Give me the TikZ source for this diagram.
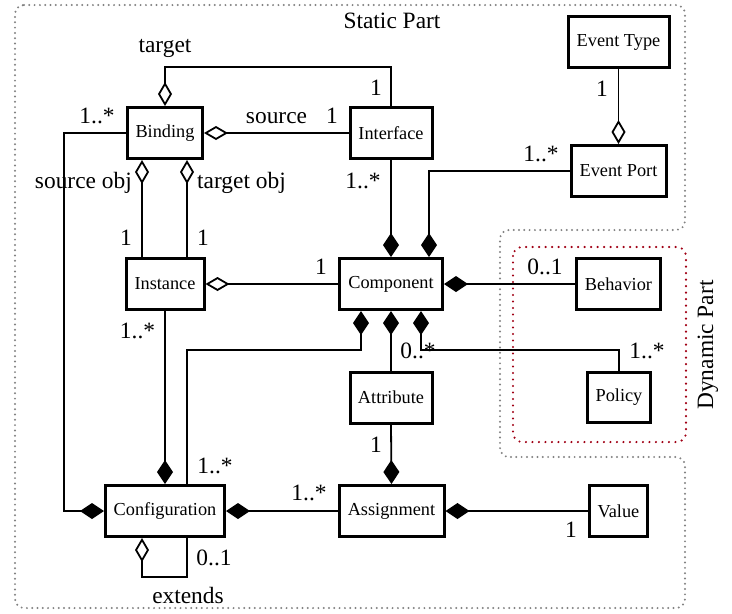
\documentclass[tikz,border=0pt]{standalone}
\usepackage{fontspec}
\setmainfont{Liberation Serif}
\usetikzlibrary{arrows.meta,calc}
\definecolor{dotgray}{RGB}{130,130,130}
\definecolor{dotred}{RGB}{160,0,20}
\begin{document}
\begin{tikzpicture}[x=1pt,y=-1pt,
 cls/.style={draw,line width=3pt,minimum height=51pt,inner sep=2pt,font=\fontsize{18.3}{20}\selectfont},
 conn/.style={line width=1.8pt},
 agg/.style={conn,-{Diamond[open,length=24pt,width=14pt]}},
 comp/.style={conn,-{Diamond[length=24pt,width=16pt]}},
 lab/.style={font=\fontsize{23.4}{26}\selectfont,inner sep=0pt,anchor=base},
 staticline/.style={draw=dotgray,line width=2.2pt,line cap=round,dash pattern=on 0pt off 5.3pt,rounded corners=9pt},
 dynline/.style={draw=dotred,line width=2.4pt,line cap=round,dash pattern=on 0pt off 6.5pt,rounded corners=9pt},
]
\useasboundingbox (0,0) rectangle (732,614);

% regions
\draw[staticline] (15,5) -- (685,5) -- (685,230) -- (500,230) -- (500,457) -- (685,457) -- (685,608) -- (15,608) -- cycle;
\draw[dynline] (513,247) rectangle (686,442);
\node[lab] (staticlbl) at (392,28) {Static Part};
\node[lab,rotate=90] (dynlbl) at (713,345) {Dynamic Part};

% classes
\node[cls,minimum width=75] (binding) at (165,133) {Binding};
\node[cls,minimum width=82] (interface) at (391,133) {Interface};
\node[cls,minimum width=101] (eventtype) at (618.5,42) {Event Type};
\node[cls,minimum width=95] (eventport) at (618.5,171) {Event Port};
\node[cls,minimum width=78] (instance) at (165,284) {Instance};
\node[cls,minimum width=103] (component) at (391,284) {Component};
\node[cls,minimum width=84] (behavior) at (618.5,284) {Behavior};
\node[cls,minimum width=63,minimum height=50] (policy) at (619,397.5) {Policy};
\node[cls,minimum width=82] (attribute) at (391,397.5) {Attribute};
\node[cls,minimum width=119] (configuration) at (165,511) {Configuration};
\node[cls,minimum width=105] (assignment) at (391.5,511) {Assignment};
\node[cls,minimum width=58] (value) at (618.5,511) {Value};

% connectors
\draw[agg] (interface.north) -- ++(0,-39) -| (binding.north);
\draw[agg] (interface.west) -- (binding.east);
\draw[agg] ([xshift=-23pt]instance.north) -- ([xshift=-23pt]binding.south);
\draw[agg] ([xshift=22pt]instance.north) -- ([xshift=22pt]binding.south);
\draw[comp] (binding.west) -- ++(-62,0) |- (configuration.west);
\draw[comp] (interface.south) -- (component.north);
\draw[comp] (eventport.west) -| ([xshift=38pt]component.north);
\draw[agg] (eventtype.south) -- (eventport.north);
\draw[agg] (component.west) -- (instance.east);
\draw[comp] (behavior.west) -- (component.east);
\draw[comp] (policy.north) -- ++(0,-21) -| ([xshift=30pt]component.south);
\draw[comp] (attribute.north) -- (component.south);
\draw[comp] ([xshift=22pt]configuration.north) -- ++(0,-134) -| ([xshift=-30pt]component.south);
\draw[comp] (instance.south) -- (configuration.north);
\draw[comp] (attribute.south) -- (assignment.north);
\draw[comp] (assignment.west) -- (configuration.east);
\draw[comp] (value.west) -- (assignment.east);
\draw[agg] ([xshift=22pt]configuration.south) -- ++(0,39) -| ([xshift=-23pt]configuration.south);

% labels
\node[lab] (l1) at (165,52) {target};
\node[lab] (l2) at (376,95) {1};
\node[lab] (l3) at (276.5,123) {source};
\node[lab] (l4) at (332,123) {1};
\node[lab] (l5) at (97,123) {1..*};
\node[lab,anchor=base east] (l6) at (132,188) {source obj};
\node[lab,anchor=base west] (l7) at (197,188) {target obj};
\node[lab] (l8) at (126,245) {1};
\node[lab] (l9) at (203,245) {1};
\node[lab] (l10) at (363,188) {1..*};
\node[lab] (l11) at (541,161) {1..*};
\node[lab] (l12) at (602,96) {1};
\node[lab] (l13) at (321,274) {1};
\node[lab] (l14) at (545,274) {0..1};
\node[lab] (l15) at (137.5,338) {1..*};
\node[lab] (l16) at (418,358) {0..*};
\node[lab] (l17) at (647,358) {1..*};
\node[lab] (l18) at (376,452) {1};
\node[lab] (l19) at (215,473) {1..*};
\node[lab] (l20) at (309,500) {1..*};
\node[lab] (l21) at (571,537) {1};
\node[lab] (l22) at (214,565) {0..1};
\node[lab] (l23) at (188,603) {extends};
\end{tikzpicture}
\end{document}
